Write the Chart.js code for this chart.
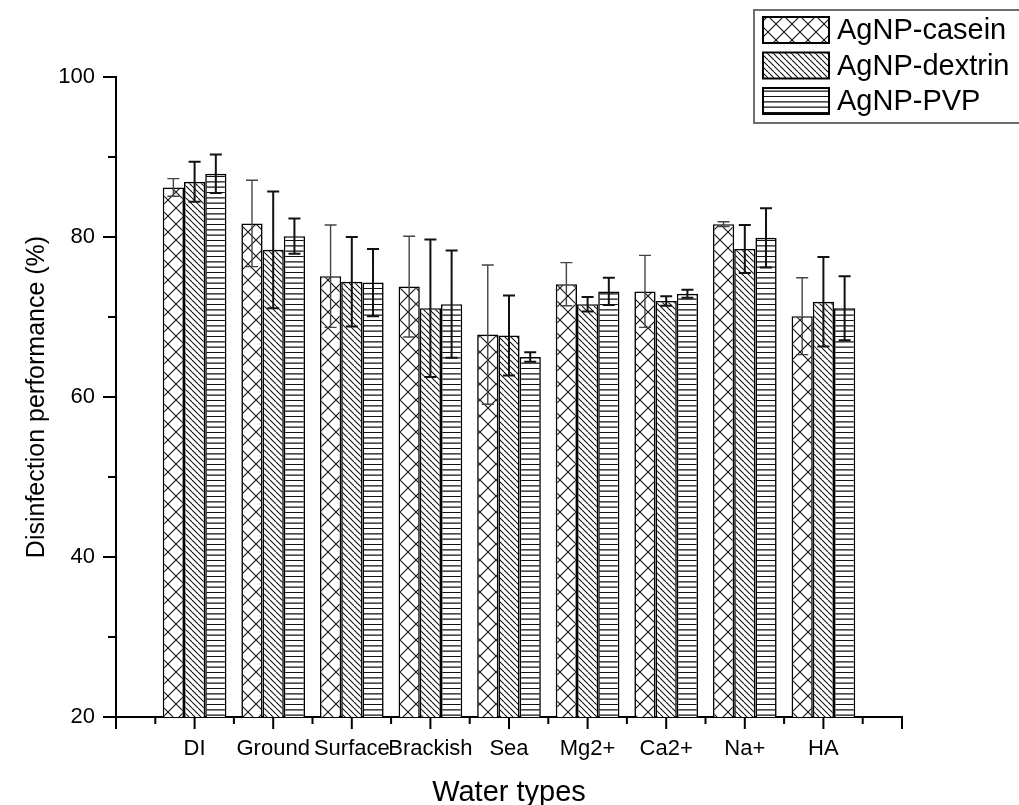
<!DOCTYPE html>
<html>
<head>
<meta charset="utf-8">
<title>Disinfection performance by water type</title>
<script src="https://cdn.jsdelivr.net/npm/chart.js@4.4.0/dist/chart.umd.min.js"></script>
<style>
  html, body { margin: 0; padding: 0; background: #fff; }
  canvas { display: block; }
</style>
</head>
<body>
<canvas id="perfChart" width="1019" height="805"></canvas>
<script>
// mean disinfection (%) and error per water type, one pair of arrays per AgNP coating
const waterTypes = ['DI', 'Ground', 'Surface', 'Brackish', 'Sea', 'Mg2+', 'Ca2+', 'Na+', 'HA'];
const caseinMean  = [86.2, 81.7, 75.1, 73.8, 67.8, 74.1, 73.2, 81.6, 70.1];
const caseinErr   = [1.1, 5.4, 6.4, 6.3, 8.7, 2.7, 4.5, 0.3, 4.8];
const dextrinMean = [86.9, 78.4, 74.4, 71.1, 67.7, 71.6, 72.0, 78.5, 71.9];
const dextrinErr  = [2.5, 7.3, 5.6, 8.6, 5.0, 0.9, 0.6, 3.0, 5.6];
const pvpMean     = [87.9, 80.1, 74.3, 71.6, 65.0, 73.2, 72.9, 79.9, 71.1];
const pvpErr      = [2.4, 2.2, 4.2, 6.7, 0.6, 1.7, 0.5, 3.7, 4.0];
const yTickStep = 20;

const FONT = 'Arial, "Liberation Sans", sans-serif';

// hatch fills, drawn on a small tile and repeated
function makePattern(kind) {
    const size = kind === 'diag' ? 6 : 16;
    const c = document.createElement('canvas');
    c.width = size;
    c.height = size;
    const g = c.getContext('2d');
    g.fillStyle = '#fff';
    g.fillRect(0, 0, size, size);
    g.strokeStyle = '#111';
    g.lineWidth = 1.1;
    g.beginPath();
    if (kind === 'cross' || kind === 'diag') {
        for (let k = -1; k <= 1; k++) {
            g.moveTo(k * size, 0);
            g.lineTo(k * size + size, size);
        }
    }
    if (kind === 'cross') {
        for (let k = -1; k <= 1; k++) {
            g.moveTo(k * size, size);
            g.lineTo(k * size + size, 0);
        }
    }
    if (kind === 'horiz') {
        for (let i = 0; i < 3; i++) {
            const yy = i * size / 3 + 0.5;
            g.moveTo(0, yy);
            g.lineTo(size, yy);
        }
    }
    g.stroke();
    return g.createPattern(c, 'repeat');
}

const toPoints = arr => arr.map((v, i) => ({ x: i + 1, y: v }));

const errorBars = {
    id: 'errorBars',
    afterDatasetsDraw(chart) {
        const { ctx } = chart;
        const y = chart.scales.y;
        chart.data.datasets.forEach((ds, i) => {
            const meta = chart.getDatasetMeta(i);
            ctx.save();
            ctx.strokeStyle = ds.errorColor;
            ctx.lineWidth = ds.errorWidth;
            ctx.beginPath();
            meta.data.forEach((bar, j) => {
                const v = ds.data[j].y;
                const e = ds.errors[j];
                const top = y.getPixelForValue(v + e);
                const bot = y.getPixelForValue(v - e);
                ctx.moveTo(bar.x, top);
                ctx.lineTo(bar.x, bot);
                ctx.moveTo(bar.x - 6, top);
                ctx.lineTo(bar.x + 6, top);
                ctx.moveTo(bar.x - 6, bot);
                ctx.lineTo(bar.x + 6, bot);
            });
            ctx.stroke();
            ctx.restore();
        });
    }
};

// outward tick marks, long on major values, short in between
const axisTicks = {
    id: 'axisTicks',
    afterDraw(chart) {
        const { ctx, chartArea } = chart;
        const { x, y } = chart.scales;
        ctx.save();
        ctx.strokeStyle = '#000';
        ctx.lineWidth = 2;
        ctx.beginPath();
        for (let v = x.min; v <= x.max; v += 0.5) {
            const px = x.getPixelForValue(v);
            ctx.moveTo(px, chartArea.bottom);
            ctx.lineTo(px, chartArea.bottom + (Number.isInteger(v) ? 12 : 7));
        }
        for (let v = y.min; v <= y.max; v += yTickStep / 2) {
            const py = y.getPixelForValue(v);
            ctx.moveTo(chartArea.left, py);
            ctx.lineTo(chartArea.left - (v % yTickStep === 0 ? 13 : 8), py);
        }
        ctx.stroke();
        ctx.restore();
    }
};

const patternLegend = {
    id: 'patternLegend',
    afterDraw(chart, args, opts) {
        const { ctx } = chart;
        ctx.save();
        ctx.strokeStyle = '#6e6e6e';
        ctx.lineWidth = 2;
        ctx.strokeRect(opts.left, opts.top, opts.width, opts.height);
        ctx.font = `${opts.fontSize}px ${FONT}`;
        ctx.textBaseline = 'middle';
        ctx.textAlign = 'left';
        chart.data.datasets.forEach((ds, i) => {
            const sy = opts.top + opts.rowStart + i * opts.rowGap;
            ctx.fillStyle = ds.backgroundColor;
            ctx.fillRect(opts.left + 9, sy, 66, 26);
            ctx.strokeStyle = '#000';
            ctx.lineWidth = 2;
            ctx.strokeRect(opts.left + 9, sy, 66, 26);
            ctx.fillStyle = '#000';
            ctx.fillText(ds.label, opts.left + 83, sy + 14);
        });
        ctx.restore();
    }
};

const ctx = document.getElementById('perfChart').getContext('2d');
const perfChart = new Chart(ctx, {
    type: 'bar',
    data: {
        datasets: [
            {
                label: 'AgNP-casein',
                data: toPoints(caseinMean),
                errors: caseinErr,
                backgroundColor: makePattern('cross'),
                errorColor: '#444',
                errorWidth: 1.4
            },
            {
                label: 'AgNP-dextrin',
                data: toPoints(dextrinMean),
                errors: dextrinErr,
                backgroundColor: makePattern('diag'),
                errorColor: '#111',
                errorWidth: 2
            },
            {
                label: 'AgNP-PVP',
                data: toPoints(pvpMean),
                errors: pvpErr,
                backgroundColor: makePattern('horiz'),
                errorColor: '#111',
                errorWidth: 2
            }
        ]
    },
    options: {
        responsive: false,
        animation: false,
        devicePixelRatio: 1,
        layout: { padding: { top: 77, right: 117, left: 0, bottom: 0 } },
        datasets: {
            bar: {
                borderColor: '#000',
                borderWidth: 1.6,
                categoryPercentage: 0.81,
                barPercentage: 1
            }
        },
        scales: {
            x: {
                type: 'linear',
                min: 0,
                max: 10,
                offset: false,
                afterFit: s => { s.height = 88; },
                grid: { display: false, drawTicks: false },
                border: { display: true, color: '#000', width: 2 },
                ticks: {
                    stepSize: 1,
                    autoSkip: false,
                    maxRotation: 0,
                    padding: 19,
                    color: '#000',
                    font: { family: FONT, size: 22 },
                    callback: v => waterTypes[v - 1] || ''
                },
                title: {
                    display: true,
                    text: 'Water types',
                    color: '#000',
                    font: { family: FONT, size: 29 },
                    padding: { top: 0, bottom: -5 }
                }
            },
            y: {
                min: 20,
                max: 100,
                afterFit: s => { s.width = 116; },
                grid: { display: false, drawTicks: false },
                border: { display: true, color: '#000', width: 2 },
                ticks: {
                    stepSize: yTickStep,
                    padding: 21,
                    color: '#000',
                    font: { family: FONT, size: 22 }
                },
                title: {
                    display: true,
                    text: 'Disinfection performance (%)',
                    color: '#000',
                    font: { family: FONT, size: 25 },
                    padding: { top: 22, bottom: 0 }
                }
            }
        },
        plugins: {
            legend: { display: false },
            tooltip: { enabled: false },
            patternLegend: { left: 754, top: 10, width: 300, height: 113, rowStart: 7, rowGap: 35.5, fontSize: 29 }
        }
    },
    plugins: [errorBars, axisTicks, patternLegend]
});
</script>
</body>
</html>
